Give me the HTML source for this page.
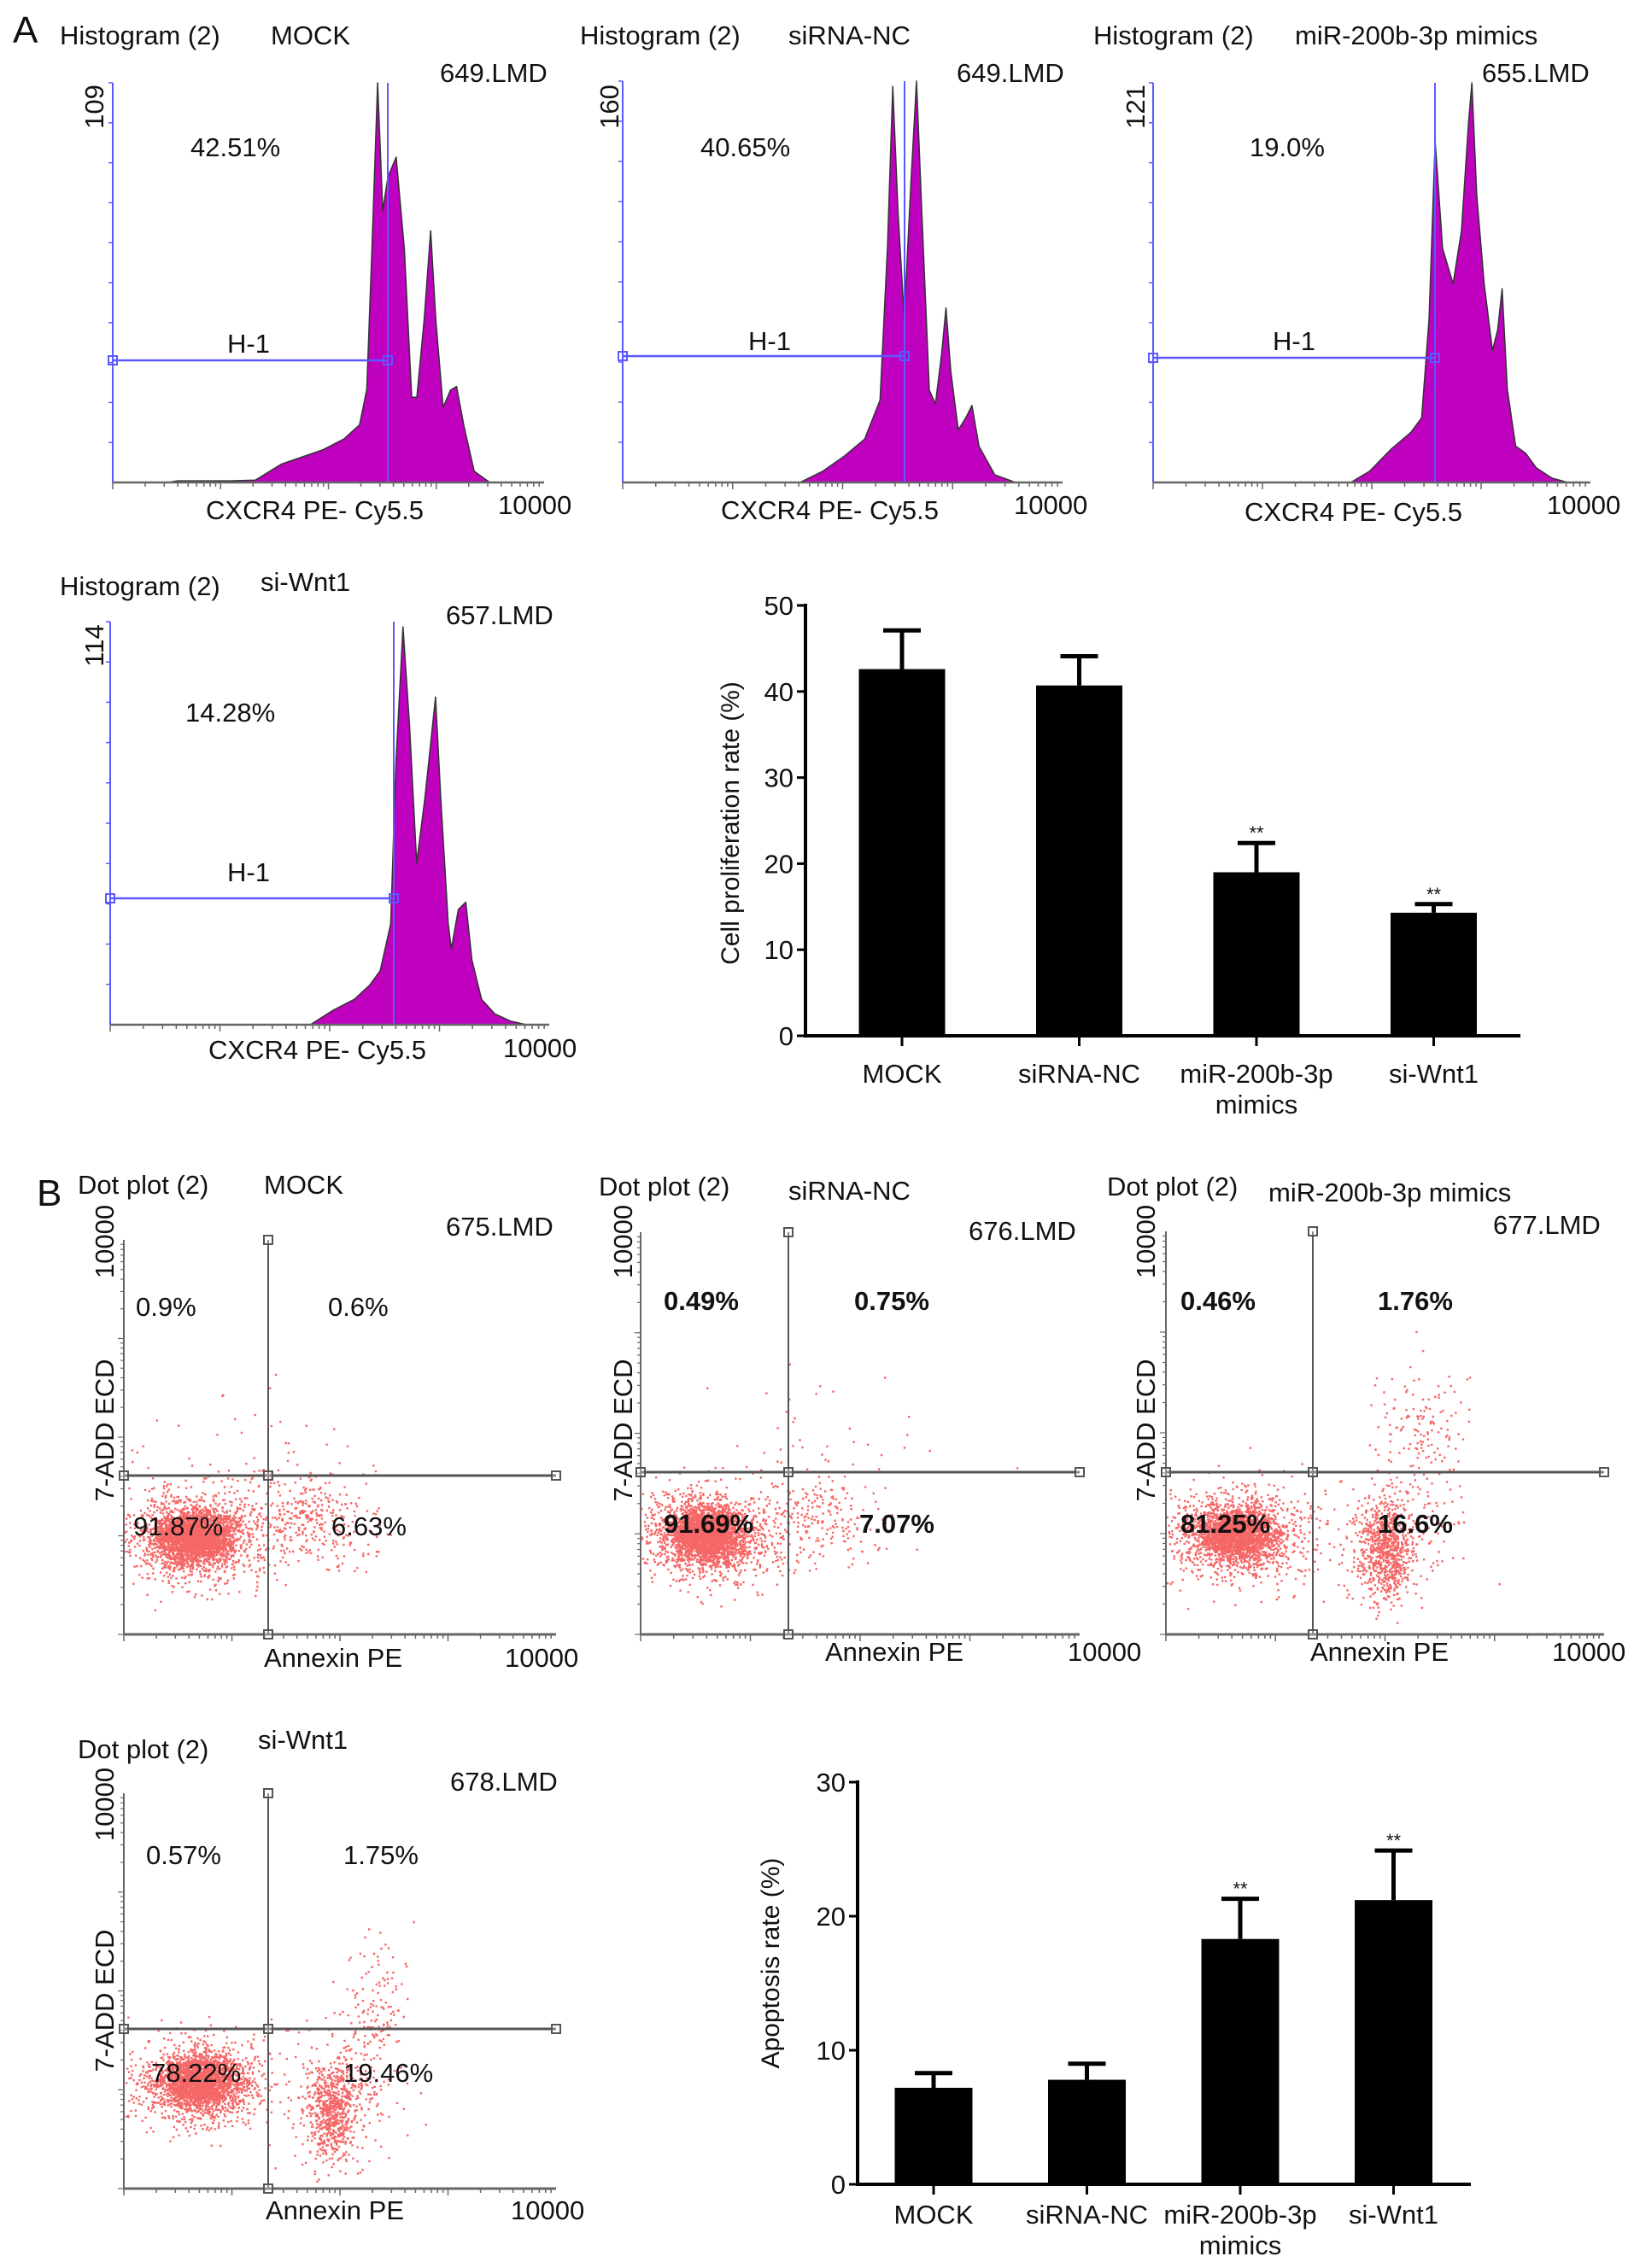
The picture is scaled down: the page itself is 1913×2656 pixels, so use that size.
<!DOCTYPE html>
<html><head><meta charset="utf-8"><style>
html,body{margin:0;padding:0;background:#fff}
svg{display:block}
text{font-family:"Liberation Sans",Arial,sans-serif;fill:#111}
.t{font-size:31px}
.b{font-weight:bold}
</style></head><body>
<svg id="fig" width="1913" height="2656" viewBox="0 0 1913 2656" xmlns="http://www.w3.org/2000/svg">
<rect width="1913" height="2656" fill="#fff"/>
<g id="marks"></g>
<g id="labels">
<text x="15" y="50" style="font-size:44px">A</text>
<text x="43" y="1412" style="font-size:44px">B</text>
<text class="t" x="70" y="52">Histogram (2)</text>
<text class="t" x="317" y="52">MOCK</text>
<text class="t" x="515" y="96">649.LMD</text>
<text class="t" transform="translate(121,125) rotate(-90)" text-anchor="middle">109</text>
<text class="t" x="223" y="183">42.51%</text>
<text class="t" x="266" y="413">H-1</text>
<text class="t" x="241" y="608">CXCR4 PE- Cy5.5</text>
<text class="t" x="583" y="602">10000</text>
<text class="t" x="679" y="52">Histogram (2)</text>
<text class="t" x="923" y="52">siRNA-NC</text>
<text class="t" x="1120" y="96">649.LMD</text>
<text class="t" transform="translate(724,125) rotate(-90)" text-anchor="middle">160</text>
<text class="t" x="820" y="183">40.65%</text>
<text class="t" x="876" y="410">H-1</text>
<text class="t" x="844" y="608">CXCR4 PE- Cy5.5</text>
<text class="t" x="1187" y="602">10000</text>
<text class="t" x="1280" y="52">Histogram (2)</text>
<text class="t" x="1516" y="52">miR-200b-3p mimics</text>
<text class="t" x="1735" y="96">655.LMD</text>
<text class="t" transform="translate(1340,125) rotate(-90)" text-anchor="middle">121</text>
<text class="t" x="1463" y="183">19.0%</text>
<text class="t" x="1490" y="410">H-1</text>
<text class="t" x="1457" y="610">CXCR4 PE- Cy5.5</text>
<text class="t" x="1811" y="602">10000</text>
<text class="t" x="70" y="697">Histogram (2)</text>
<text class="t" x="305" y="692">si-Wnt1</text>
<text class="t" x="522" y="731">657.LMD</text>
<text class="t" transform="translate(121,756) rotate(-90)" text-anchor="middle">114</text>
<text class="t" x="217" y="845">14.28%</text>
<text class="t" x="266" y="1032">H-1</text>
<text class="t" x="244" y="1240">CXCR4 PE- Cy5.5</text>
<text class="t" x="589" y="1238">10000</text>
<text class="t" x="91" y="1398">Dot plot (2)</text>
<text class="t" x="309" y="1398">MOCK</text>
<text class="t" x="522" y="1447">675.LMD</text>
<text class="t" transform="translate(133,1454) rotate(-90)" text-anchor="middle">10000</text>
<text class="t" transform="translate(133,1675) rotate(-90)" text-anchor="middle">7-ADD ECD</text>
<text class="t" x="159" y="1541">0.9%</text>
<text class="t" x="384" y="1541">0.6%</text>
<text class="t" x="156" y="1798">91.87%</text>
<text class="t" x="388" y="1798">6.63%</text>
<text class="t" x="309" y="1952">Annexin PE</text>
<text class="t" x="591" y="1952">10000</text>
<text class="t" x="701" y="1400">Dot plot (2)</text>
<text class="t" x="923" y="1405">siRNA-NC</text>
<text class="t" x="1134" y="1452">676.LMD</text>
<text class="t" transform="translate(740,1454) rotate(-90)" text-anchor="middle">10000</text>
<text class="t" transform="translate(740,1675) rotate(-90)" text-anchor="middle">7-ADD ECD</text>
<text class="t b" x="777" y="1534">0.49%</text>
<text class="t b" x="1000" y="1534">0.75%</text>
<text class="t b" x="777" y="1795">91.69%</text>
<text class="t b" x="1006" y="1795">7.07%</text>
<text class="t" x="966" y="1945">Annexin PE</text>
<text class="t" x="1250" y="1945">10000</text>
<text class="t" x="1296" y="1400">Dot plot (2)</text>
<text class="t" x="1485" y="1407">miR-200b-3p mimics</text>
<text class="t" x="1748" y="1445">677.LMD</text>
<text class="t" transform="translate(1352,1454) rotate(-90)" text-anchor="middle">10000</text>
<text class="t" transform="translate(1352,1675) rotate(-90)" text-anchor="middle">7-ADD ECD</text>
<text class="t b" x="1382" y="1534">0.46%</text>
<text class="t b" x="1613" y="1534">1.76%</text>
<text class="t b" x="1382" y="1795">81.25%</text>
<text class="t b" x="1613" y="1795">16.6%</text>
<text class="t" x="1534" y="1945">Annexin PE</text>
<text class="t" x="1817" y="1945">10000</text>
<text class="t" x="91" y="2059">Dot plot (2)</text>
<text class="t" x="302" y="2048">si-Wnt1</text>
<text class="t" x="527" y="2097">678.LMD</text>
<text class="t" transform="translate(133,2113) rotate(-90)" text-anchor="middle">10000</text>
<text class="t" transform="translate(133,2343) rotate(-90)" text-anchor="middle">7-ADD ECD</text>
<text class="t" x="171" y="2183">0.57%</text>
<text class="t" x="402" y="2183">1.75%</text>
<text class="t" x="177" y="2438">78.22%</text>
<text class="t" x="402" y="2438">19.46%</text>
<text class="t" x="311" y="2599">Annexin PE</text>
<text class="t" x="598" y="2599">10000</text>
</g>
</svg>
<script>
// ---------- bar chart data ----------
const categories = ["MOCK","siRNA-NC","miR-200b-3p","si-Wnt1"];
const categorySub = ["","","mimics",""];
const prolifValues = [42.6, 40.7, 19.0, 14.3];
const prolifErrors = [4.5, 3.4, 3.4, 1.0];
const prolifStars = ["","","**","**"];
const prolifTicks = [0,10,20,30,40,50];
const apopValues = [7.2, 7.8, 18.3, 21.2];
const apopErrors = [1.1, 1.2, 3.0, 3.7];
const apopStars = ["","","**","**"];
const apopTicks = [0,10,20,30];
// ---------- histogram profiles ----------
const hist1X = [.126,.150,.271,.331,.391,.440,.488,.536,.572,.589,.601,.614,.626,.638,.657,.676,.693,.705,.722,.737,.749,.766,.783,.797,.814,.838,.874];
const hist1Y = [0,.004,.004,.006,.046,.064,.082,.109,.144,.233,.588,1.0,.680,.765,.814,.585,.213,.213,.408,.630,.408,.188,.231,.240,.142,.028,0];
const hist2X = [.403,.455,.502,.550,.585,.602,.614,.626,.640,.656,.668,.680,.697,.711,.725,.735,.746,.763,.780,.794,.810,.846,.893];
const hist2Y = [0,.028,.064,.108,.205,.586,.987,.673,.408,.760,1.0,.673,.230,.196,.320,.435,.276,.131,.161,.192,.090,.019,0];
const hist3X = [.452,.495,.543,.590,.614,.631,.645,.662,.686,.705,.721,.729,.740,.757,.776,.788,.798,.810,.829,.852,.876,.912,.948];
const hist3Y = [0,.028,.082,.126,.162,.410,.854,.586,.497,.630,.898,1.0,.719,.497,.330,.383,.485,.233,.091,.073,.037,.011,0];
const hist4X = [.456,.508,.556,.591,.615,.639,.651,.667,.682,.698,.717,.741,.753,.770,.777,.793,.810,.824,.846,.876,.912,.948];
const hist4Y = [0,.036,.063,.098,.134,.250,.652,.987,.741,.402,.563,.813,.563,.250,.188,.286,.304,.161,.063,.027,.009,0];
// ---------- dot plot populations: [cx, cy, sx, sy, count] ----------
const dot1Pops = [[.16,.25,.045,.032,2200],[.16,.25,.085,.06,1100],[.43,.29,.08,.06,320],[.33,.44,.13,.09,50]];
const dot2Pops = [[.15,.25,.043,.032,2200],[.15,.25,.08,.06,1100],[.40,.28,.07,.06,220],[.40,.45,.13,.1,50]];
const dot3Pops = [[.16,.25,.045,.032,1900],[.16,.25,.085,.06,900],[.50,.21,.03,.06,650],[.52,.24,.07,.09,250],[.58,.50,.05,.09,150]];
const dot4Pops = [[.17,.27,.045,.032,1800],[.17,.27,.085,.06,900],[.48,.20,.03,.06,600],[.50,.24,.06,.09,220],[.58,.44,.04,.1,150]];

const NS = "http://www.w3.org/2000/svg";
const marks = document.getElementById("marks");
function mk(tag, attrs, parent) {
  const e = document.createElementNS(NS, tag);
  for (const k in attrs) e.setAttribute(k, attrs[k]);
  (parent || marks).appendChild(e);
  return e;
}
const BLUE = "#5a5aff", GRAY = "#666";

function logTicks(g, x0, x1, y, color, dir) {
  const decades = 4, w = (x1 - x0) / decades;
  for (let d = 0; d < decades; d++) {
    for (let m = 1; m <= 9; m++) {
      const x = x0 + w * (d + Math.log10(m));
      const len = m === 1 ? 8 : 5;
      mk("line", {x1: x, y1: y, x2: x, y2: y + dir * len, stroke: color, "stroke-width": 1.5}, g);
    }
  }
}

function histogram(idx, box, xs, ys, gateX, gateY) {
  const g = mk("g", {});
  
  
  const {l, r, t, b} = box;
  const sx = f => l + f * (r - l), sy = f => b - f * (b - t);
  let d = "M" + sx(xs[0]) + "," + b;
  for (let i = 0; i < xs.length; i++) d += " L" + sx(xs[i]).toFixed(1) + "," + sy(ys[i]).toFixed(1);
  d += " L" + sx(xs[xs.length - 1]) + "," + b + " Z";
  const p = mk("path", {d: d, fill: "#bf00bf", stroke: "#333", "stroke-width": 1.5, "stroke-linejoin": "round"}, g);
  
  
  const xa = mk("line", {x1: l, y1: b, x2: r, y2: b, stroke: GRAY, "stroke-width": 2.5}, g);
  
  
  logTicks(g, l, r, b, GRAY, 1);
  const ya = mk("line", {x1: l, y1: t, x2: l, y2: b, stroke: BLUE, "stroke-width": 2}, g);
  
  
  for (let i = 1; i <= 10; i++) {
    const y = b - i * (b - t) / 10;
    mk("line", {x1: l - 5, y1: y, x2: l, y2: y, stroke: BLUE, "stroke-width": 1.5}, g);
  }
  const v = mk("line", {x1: gateX, y1: t, x2: gateX, y2: b, stroke: BLUE, "stroke-width": 2}, g);
  
  
  const h = mk("line", {x1: l, y1: gateY, x2: gateX, y2: gateY, stroke: BLUE, "stroke-width": 2.5}, g);
  
  
  mk("rect", {x: l - 5, y: gateY - 5, width: 10, height: 10, fill: "none", stroke: BLUE, "stroke-width": 2}, g);
  mk("rect", {x: gateX - 5, y: gateY - 5, width: 10, height: 10, fill: "none", stroke: BLUE, "stroke-width": 2}, g);
}
histogram(1, {l: 132, r: 637, t: 97, b: 565}, hist1X, hist1Y, 454, 422);
histogram(2, {l: 729, r: 1244, t: 95, b: 565}, hist2X, hist2Y, 1059, 417);
histogram(3, {l: 1350, r: 1862, t: 97, b: 565}, hist3X, hist3Y, 1680, 419);
histogram(4, {l: 129, r: 643, t: 728, b: 1200}, hist4X, hist4Y, 461, 1052);

function rng(seed) { return function () { seed |= 0; seed = seed + 0x6D2B79F5 | 0; let t = Math.imul(seed ^ seed >>> 15, 1 | seed); t = t + Math.imul(t ^ t >>> 7, 61 | t) ^ t; return ((t ^ t >>> 14) >>> 0) / 4294967296; }; }
function dotplot(idx, box, qx, qy, pops, seed) {
  const g = mk("g", {});
  
  
  const {l, r, t, b} = box, R = rng(seed);
  const gauss = () => { let u = R() || 1e-9, v = R(); return Math.sqrt(-2 * Math.log(u)) * Math.cos(2 * Math.PI * v); };
  let d = "";
  pops.forEach(p => {
    for (let i = 0; i < p[4]; i++) {
      const fx = p[0] + p[2] * gauss(), fy = p[1] + p[3] * gauss();
      if (fx < 0 || fx > 1 || fy < 0 || fy > 1) continue;
      const x = l + fx * (r - l), y = b - fy * (b - t);
      d += "M" + x.toFixed(1) + "," + y.toFixed(1) + "h2.4v2.4h-2.4z";
    }
  });
  const cloud = mk("path", {d: d, fill: "rgba(238,0,0,0.6)"}, g);
  
  
  const ax = mk("line", {x1: l, y1: b, x2: r, y2: b, stroke: GRAY, "stroke-width": 3}, g);
  
  
  const ay = mk("line", {x1: l, y1: t, x2: l, y2: b, stroke: GRAY, "stroke-width": 2}, g);
  
  
  logTicks(g, l, r, b, GRAY, 1);
  const hgt = (b - t) / 4;
  for (let dd = 0; dd < 4; dd++) for (let m = 1; m <= 9; m++) {
    const y = b - hgt * (dd + Math.log10(m));
    mk("line", {x1: l - (m === 1 ? 7 : 4), y1: y, x2: l, y2: y, stroke: GRAY, "stroke-width": 1.2}, g);
  }
  const qv = mk("line", {x1: qx, y1: t, x2: qx, y2: b, stroke: "#555", "stroke-width": 2}, g);
  
  
  const qh = mk("line", {x1: l, y1: qy, x2: r, y2: qy, stroke: "#555", "stroke-width": 3}, g);
  
  
  [[qx, t], [qx, b], [qx, qy], [l, qy], [r, qy]].forEach(pt => {
    mk("rect", {x: pt[0] - 5, y: pt[1] - 5, width: 10, height: 10, fill: "#fff", "fill-opacity": 0.3, stroke: "#555", "stroke-width": 2}, g);
  });
}
dotplot(1, {l: 145, r: 651, t: 1452, b: 1914}, 314, 1728, dot1Pops, 11);
dotplot(2, {l: 750, r: 1264, t: 1443, b: 1914}, 923, 1724, dot2Pops, 22);
dotplot(3, {l: 1365, r: 1878, t: 1442, b: 1914}, 1537, 1724, dot3Pops, 33);
dotplot(4, {l: 145, r: 651, t: 2100, b: 2563}, 314, 2376, dot4Pops, 44);

function barChart(idx, cfg, values, errors, stars, ticks) {
  const g = mk("g", {});
  
  
  const maxV = ticks[ticks.length - 1];
  const y = v => cfg.y0 - v / maxV * (cfg.y0 - cfg.yTop);
  const cx = i => cfg.c0 + i * cfg.step;
  values.forEach((v, i) => {
    const e = y(v + errors[i]);
    const eb = mk("path", {d: "M" + cx(i) + "," + y(v) + "V" + e + "M" + (cx(i) - 22) + "," + e + "H" + (cx(i) + 22), stroke: "#000", "stroke-width": 5, fill: "none"}, g);
    
    
    const r = mk("rect", {x: cx(i) - cfg.bw / 2, y: y(v), width: cfg.bw, height: cfg.y0 - y(v), fill: "#000"}, g);
    
    
    if (stars[i]) {
      const s = mk("text", {x: cx(i), y: e - 4, "text-anchor": "middle", style: "font-size:22px"}, g);
      s.textContent = stars[i];
      
      
    }
    mk("line", {x1: cx(i), y1: cfg.y0, x2: cx(i), y2: cfg.y0 + 12, stroke: "#000", "stroke-width": 3}, g);
    const lab = mk("text", {x: cx(i), y: cfg.labY, "text-anchor": "middle", class: "t"}, g);
    lab.textContent = categories[i];
    
    
    if (categorySub[i]) {
      const l2 = mk("text", {x: cx(i), y: cfg.labY + 36, "text-anchor": "middle", class: "t"}, g);
      l2.textContent = categorySub[i];
      
      
    }
  });
  const ya = mk("line", {x1: cfg.x0, y1: cfg.yTop - 2, x2: cfg.x0, y2: cfg.y0 + 2, stroke: "#000", "stroke-width": 4}, g);
  
  
  const xa = mk("line", {x1: cfg.x0, y1: cfg.y0, x2: cfg.xEnd, y2: cfg.y0, stroke: "#000", "stroke-width": 4}, g);
  
  
  ticks.forEach(tv => {
    mk("line", {x1: cfg.x0 - 10, y1: y(tv), x2: cfg.x0, y2: y(tv), stroke: "#000", "stroke-width": 3}, g);
    const tl = mk("text", {x: cfg.x0 - 14, y: y(tv) + 11, "text-anchor": "end", class: "t"}, g);
    tl.textContent = tv;
    
    
  });
  const yt = mk("text", {transform: "translate(" + cfg.ylx + "," + cfg.yly + ") rotate(-90)", "text-anchor": "middle", style: "font-size:30px"}, g);
  yt.textContent = cfg.title;
  
  
}
barChart(1, {x0: 943, xEnd: 1780, y0: 1213, yTop: 709, c0: 1056, step: 207.5, bw: 101, labY: 1268, ylx: 865, yly: 964, title: "Cell proliferation rate (%)"}, prolifValues, prolifErrors, prolifStars, prolifTicks);
barChart(2, {x0: 1004, xEnd: 1722, y0: 2558, yTop: 2087, c0: 1093, step: 179.5, bw: 91, labY: 2604, ylx: 912, yly: 2299, title: "Apoptosis rate (%)"}, apopValues, apopErrors, apopStars, apopTicks);
</script>
</body></html>
